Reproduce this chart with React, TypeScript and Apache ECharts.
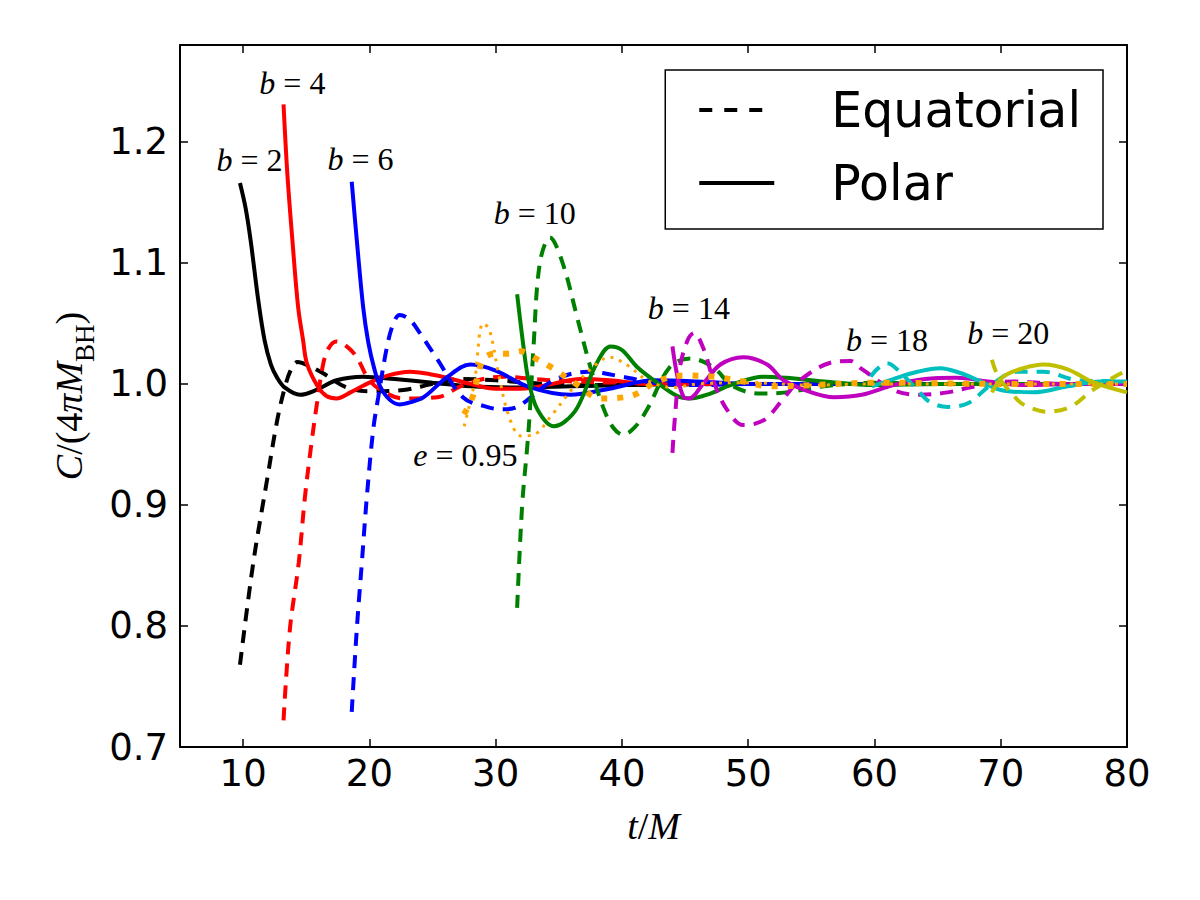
import React, { useEffect, useRef } from "react";
import * as echarts from "echarts";

// ---- data: [t/M, C/(4 pi M_BH)] ----
const b2Polar = [[9.75,1.166],[10.2,1.145],[10.6,1.118],[11.2,1.069],[11.7,1.036],[12.2,1.016],[12.7,1.005],[13.3,0.997],[14.5,0.991],[15.8,0.995],[17.4,1.003],[19.5,1.006],[22,1.004],[25,1.001],[28,0.998],[32,0.997],[36,0.998],[40,0.999],[45,1.0],[55,1.0],[80,1.0]];
const b2Equatorial = [[9.75,0.768],[10.8,0.852],[11.9,0.921],[12.7,0.970],[13.3,0.997],[13.8,1.012],[14.3,1.018],[15.2,1.015],[16.3,1.009],[18.2,0.997],[20,0.994],[22.7,0.995],[25,1.0],[27.2,1.004],[30,1.003],[34,1.0],[40,0.999],[50,1.0],[80,1.0]];
const b4Polar = [[13.2,1.231],[13.5,1.174],[13.9,1.119],[14.35,1.064],[14.75,1.036],[15.05,1.017],[15.9,0.998],[16.6,0.990],[17.4,0.988],[18.5,0.993],[20,1.001],[21.5,1.007],[23.2,1.010],[24.8,1.008],[26.2,1.005],[28,1.0],[30,0.996],[32,0.996],[34.5,1.0],[36.7,1.004],[39,1.003],[42,1.0],[50,1.0],[80,1.0]];
const b4Equatorial = [[13.2,0.722],[13.7,0.797],[14.4,0.852],[14.9,0.907],[15.45,0.954],[15.85,0.984],[16.35,1.017],[16.8,1.030],[17.4,1.035],[18.2,1.031],[19,1.022],[20,1.003],[21.2,0.993],[22.7,0.988],[25.4,0.989],[27.2,0.998],[29,1.004],[30.6,1.006],[33,1.004],[36,1.002],[40,1.001],[50,1.0],[80,1.0]];
const b6Polar = [[18.6,1.167],[19.0,1.119],[19.5,1.064],[19.9,1.035],[20.4,1.012],[20.85,0.998],[21.6,0.987],[22.4,0.983],[23.3,0.985],[24.3,0.989],[26.2,1.006],[28,1.016],[30,1.011],[32.5,0.998],[35.9,0.991],[39,0.996],[42.5,1.003],[46,1.002],[50,1.0],[80,1.0]];
const b6Equatorial = [[18.6,0.729],[19,0.797],[19.4,0.852],[19.8,0.907],[20.3,0.962],[20.7,0.989],[21.4,1.031],[21.9,1.050],[22.4,1.057],[23.2,1.053],[24,1.042],[25.4,1.020],[27.4,0.989],[29.3,0.981],[30.5,0.979],[31.7,0.981],[34.6,1.003],[37.3,1.010],[40,1.006],[42.5,1.001],[46,0.999],[50,1.0],[80,1.0]];
const b10Polar = [[31.7,1.074],[32.2,1.031],[32.6,1.003],[33.3,0.979],[34.6,0.965],[35.5,0.969],[36.5,0.981],[38,1.017],[39.1,1.031],[40,1.028],[41.2,1.014],[42.8,1.001],[44.6,0.989],[45.4,0.988],[47,0.992],[48.6,0.999],[51.2,1.006],[53,1.005],[56,1.002],[60,0.999],[65,1.0],[80,1.0]];
const b10Equatorial = [[31.7,0.815],[32.1,0.9],[32.5,0.948],[32.7,0.976],[33,1.031],[33.5,1.100],[34.3,1.121],[35.3,1.100],[36.5,1.053],[37.5,1.014],[38.5,0.981],[39.3,0.964],[40.1,0.958],[41,0.964],[42,0.979],[43.8,1.014],[45.4,1.021],[47.2,1.014],[48.8,0.998],[51,0.992],[53,0.993],[56,0.998],[60,1.001],[65,1.0],[80,1.0]];
const eccPolar = [[27.5,0.965],[28.3,1.0],[29.0,1.050],[29.5,1.045],[30.2,1.01],[31.0,0.975],[32.0,0.957],[33.0,0.958],[34.5,0.975],[36.0,0.995],[37.5,1.012],[39.0,1.022],[40.5,1.015],[42,1.003],[44,0.997],[46,1.0],[50,1.001],[55,0.999],[60,1.0],[65,1.0],[70,1.0],[80,1.0]];
const eccEquatorial = [[27.5,0.975],[28.2,0.99],[29,1.02],[30,1.025],[31,1.025],[32,1.027],[33,1.022],[34.5,1.013],[36.5,0.999],[38.3,0.988],[40.7,0.990],[42.8,1.002],[44.9,1.007],[47.2,1.006],[49.6,1.002],[51.8,0.998],[55,0.999],[60,1.001],[70,1.0],[80,1.0]];
const b14Polar = [[44.0,1.031],[44.4,1.006],[44.9,0.989],[45.3,0.988],[46.5,1.001],[47.8,1.016],[49.6,1.022],[51.5,1.016],[52.8,1.003],[55,0.993],[56.8,0.989],[59,0.991],[61.5,0.999],[64,1.004],[66.5,1.005],[69,1.002],[72,0.999],[76,1.0],[80,1.0]];
const b14Equatorial = [[44.0,0.943],[44.2,0.973],[44.6,1.014],[45.2,1.036],[45.7,1.042],[46.5,1.028],[47.3,1.001],[48.3,0.979],[49.6,0.966],[50.5,0.967],[51.5,0.972],[52.8,0.988],[54.1,1.003],[56.7,1.018],[58.1,1.019],[58.9,1.013],[61.5,0.995],[63.6,0.991],[65.8,0.993],[68,0.998],[71,1.002],[75,1.0],[80,1.0]];
const b18Polar = [[59.8,0.998],[61.5,1.004],[63.4,1.010],[65.2,1.013],[66.8,1.009],[68.2,1.003],[70,0.995],[72.6,0.993],[75.3,0.998],[77.9,1.002],[80,1.002]];
const b18Equatorial = [[59.7,1.006],[60.3,1.013],[61,1.017],[61.8,1.012],[63.4,0.995],[64.4,0.985],[65.8,0.981],[67.4,0.984],[69.2,0.999],[71.3,1.010],[73.4,1.010],[76.1,1.003],[79.2,1.002],[80,1.001]];
const b20Polar = [[69.3,0.993],[70.2,1.006],[71.8,1.013],[73.4,1.016],[75.3,1.012],[77.4,1.001],[80,0.993]];
const b20Equatorial = [[69.3,1.020],[69.8,1.006],[70.8,0.993],[71.8,0.983],[73.7,0.977],[75.5,0.981],[77.3,0.995],[79.2,1.007],[80,1.011]];

const xTicks = [10, 20, 30, 40, 50, 60, 70, 80];
const yTicks = [0.7, 0.8, 0.9, 1.0, 1.1, 1.2];

const annotationLetters = ["b", "b", "b", "b", "b", "b", "b", "e"];
const annotationValues = ["2", "4", "6", "10", "14", "18", "20", "0.95"];
const annotationT = [10.5, 13.9, 19.3, 33.1, 45.3, 61.0, 70.6, 27.6];
const annotationC = [1.185, 1.249, 1.186, 1.141, 1.063, 1.036, 1.042, 0.941];

const DASH = [13, 9];

const curves = [
  { name: "b2e", data: b2Equatorial, color: "#000000", dash: DASH, width: 4 },
  { name: "b2p", data: b2Polar, color: "#000000", dash: "solid", width: 4 },
  { name: "b4e", data: b4Equatorial, color: "#ff0000", dash: DASH, width: 4 },
  { name: "b4p", data: b4Polar, color: "#ff0000", dash: "solid", width: 4 },
  { name: "b6e", data: b6Equatorial, color: "#0000ff", dash: DASH, width: 4 },
  { name: "b6p", data: b6Polar, color: "#0000ff", dash: "solid", width: 4 },
  { name: "b10e", data: b10Equatorial, color: "#008000", dash: DASH, width: 4 },
  { name: "b10p", data: b10Polar, color: "#008000", dash: "solid", width: 4 },
  { name: "b14e", data: b14Equatorial, color: "#bf00bf", dash: DASH, width: 4 },
  { name: "b14p", data: b14Polar, color: "#bf00bf", dash: "solid", width: 4 },
  { name: "b18e", data: b18Equatorial, color: "#00bfbf", dash: DASH, width: 4 },
  { name: "b18p", data: b18Polar, color: "#00bfbf", dash: "solid", width: 4 },
  { name: "ecce", data: eccEquatorial, color: "#ffa500", dash: [6, 10], width: 6 },
  { name: "eccp", data: eccPolar, color: "#ffa500", dash: [3, 6], width: 3 },
  { name: "b20e", data: b20Equatorial, color: "#bfbf00", dash: DASH, width: 4 },
  { name: "b20p", data: b20Polar, color: "#bfbf00", dash: "solid", width: 4 },
];

const SERIF = "'Liberation Serif', 'DejaVu Serif', serif";
const SANS = "'DejaVu Sans', sans-serif";

export default function App() {
  const ref = useRef<HTMLDivElement>(null);
  useEffect(() => {
    if (!ref.current) return;
    const chart = echarts.init(ref.current, undefined, { renderer: "svg" });
    const tickStyle = { show: true, inside: true, length: 8, lineStyle: { color: "#000", width: 1.5 } };
    const axisLine = { show: true, lineStyle: { color: "#000", width: 2 } };
    const lineSeries: any[] = curves.map((c) => ({
      type: "line",
      name: c.name,
      data: c.data,
      xAxisIndex: 0,
      yAxisIndex: 0,
      symbol: "none",
      showSymbol: false,
      smooth: 0.35,
      clip: true,
      silent: true,
      lineStyle: { color: c.color, width: c.width, type: c.dash, cap: "butt" },
    }));
    const legendSeries: any[] = [
      { type: "line", name: "Equatorial", data: [], symbol: "none", lineStyle: { color: "#000", width: 4, type: [13, 12] }, itemStyle: { color: "#000" } },
      { type: "line", name: "Polar", data: [], symbol: "none", lineStyle: { color: "#000", width: 4, type: "solid" }, itemStyle: { color: "#000" } },
    ];
    const annotationData = annotationT.map((t, i) => [t, annotationC[i], annotationLetters[i], annotationValues[i]]);
    const labelSeries = {
      type: "scatter",
      name: "labels",
      data: annotationData,
      symbol: "circle",
      symbolSize: 0,
      silent: true,
      itemStyle: { color: "#000", opacity: 1 },
      label: {
        show: true,
        position: "inside",
        color: "#000",
        opacity: 1,
        textBorderWidth: 0,
        formatter: (p: any) => `{i|${p.data[2]}}{n| = ${p.data[3]}}`,
        rich: {
          i: { fontFamily: SERIF, fontStyle: "italic", fontSize: 32, color: "#000", textBorderWidth: 0 },
          n: { fontFamily: SERIF, fontSize: 32, color: "#000", textBorderWidth: 0 },
        },
      },
      z: 10,
    };
    chart.setOption({
      animation: false,
      backgroundColor: "#ffffff",
      grid: { left: 180, right: 73, top: 45, bottom: 153, show: false },
      legend: {
        data: ["Equatorial", "Polar"],
        orient: "vertical",
        right: 97,
        top: 70,
        itemWidth: 75,
        itemHeight: 20,
        itemGap: 17,
        padding: [12, 22, 18, 32],
        borderColor: "#000",
        borderWidth: 1.5,
        borderRadius: 0,
        backgroundColor: "#fff",
        selectedMode: false,
        itemStyle: { color: "rgba(0,0,0,0)", borderWidth: 0, opacity: 0 },
        lineStyle: { width: 4, color: "#000" },
        textStyle: { fontFamily: SANS, fontSize: 49, color: "#000", lineHeight: 56, padding: [0, 0, 0, 52] },
      },
      xAxis: [
        {
          type: "value", min: 5, max: 80, position: "bottom",
          axisLine, splitLine: { show: false },
          axisTick: { ...tickStyle, customValues: xTicks },
          axisLabel: { customValues: xTicks, fontFamily: SANS, fontSize: 37, color: "#000", margin: 8 },
          name: "{i|t}{n|/}{i|M}",
          nameLocation: "middle",
          nameGap: 60,
          nameTextStyle: {
            rich: {
              i: { fontFamily: SERIF, fontStyle: "italic", fontSize: 38, color: "#000" },
              n: { fontFamily: SERIF, fontSize: 38, color: "#000" },
            },
          },
        },
        {
          type: "value", min: 5, max: 80, position: "top",
          axisLine, splitLine: { show: false },
          axisTick: { ...tickStyle, customValues: xTicks },
          axisLabel: { show: false, customValues: xTicks },
        },
      ],
      yAxis: [
        {
          type: "value", min: 0.7, max: 1.28, position: "left",
          axisLine, splitLine: { show: false },
          axisTick: { ...tickStyle, customValues: yTicks },
          axisLabel: { customValues: yTicks, fontFamily: SANS, fontSize: 37, color: "#000", margin: 12, formatter: (v: number) => v.toFixed(1) },
          name: "{i|C}{n|/(4}{i|πM}{s|BH}{n|)}",
          nameLocation: "middle",
          nameRotate: 90,
          nameGap: 82,
          nameTextStyle: {
            rich: {
              i: { fontFamily: SERIF, fontStyle: "italic", fontSize: 38, color: "#000", verticalAlign: "bottom", lineHeight: 44 },
              n: { fontFamily: SERIF, fontSize: 38, color: "#000", verticalAlign: "bottom", lineHeight: 44 },
              s: { fontFamily: SERIF, fontSize: 27, color: "#000", verticalAlign: "bottom", lineHeight: 44, padding: [0, 0, -10, 0] },
            },
          },
        },
        {
          type: "value", min: 0.7, max: 1.28, position: "right",
          axisLine, splitLine: { show: false },
          axisTick: { ...tickStyle, customValues: yTicks },
          axisLabel: { show: false, customValues: yTicks },
        },
      ],
      series: [...lineSeries, ...legendSeries, labelSeries],
    });
    return () => chart.dispose();
  }, []);
  return <div ref={ref} style={{ width: 1200, height: 900, position: "absolute", left: 0, top: 0 }} />;
}
